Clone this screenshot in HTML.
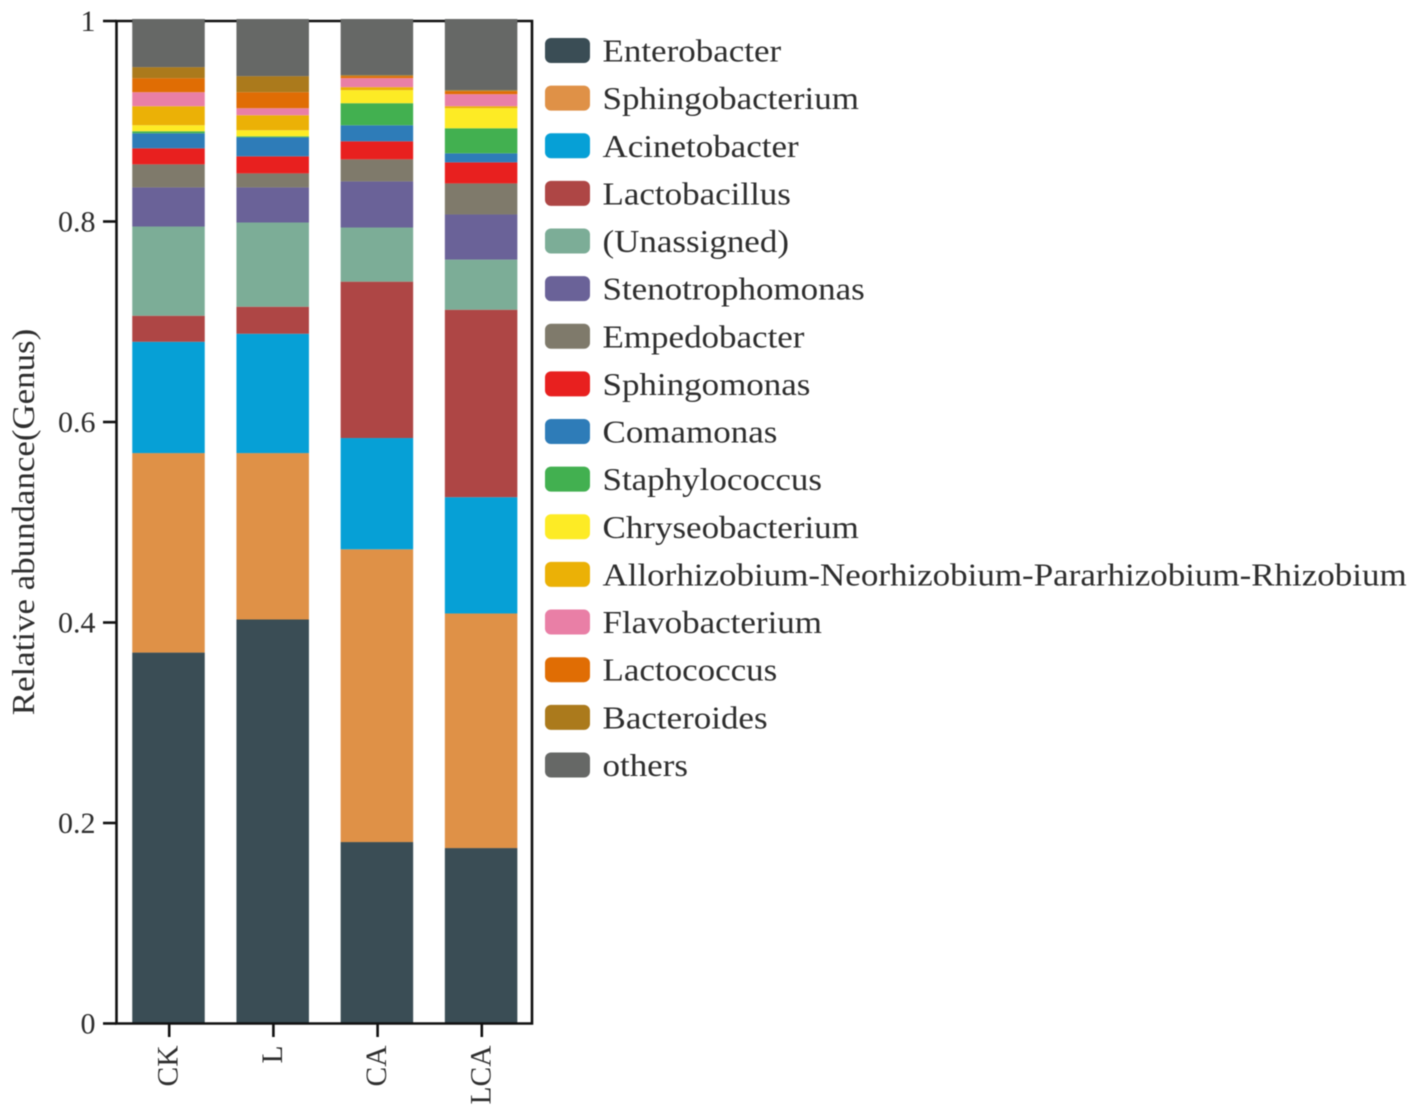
<!DOCTYPE html>
<html>
<head>
<meta charset="utf-8">
<title>Relative abundance by genus</title>
<style>
html,body{margin:0;padding:0;background:#fff;}
svg{display:block;filter:blur(0.4px);}
text{font-family:"Liberation Serif",serif;fill:#2e2e2e;}
</style>
</head>
<body>
<svg id="chart" width="1418" height="1117" viewBox="0 0 1418 1117" xmlns="http://www.w3.org/2000/svg"></svg>
<script>
const samples = ["CK", "L", "CA", "LCA"];
const yTicks = [0, 0.2, 0.4, 0.6, 0.8, 1];
const genera = ["Enterobacter", "Sphingobacterium", "Acinetobacter", "Lactobacillus", "(Unassigned)", "Stenotrophomonas", "Empedobacter", "Sphingomonas", "Comamonas", "Staphylococcus", "Chryseobacterium", "Allorhizobium-Neorhizobium-Pararhizobium-Rhizobium", "Flavobacterium", "Lactococcus", "Bacteroides", "others"];
const enterobacter = [0.370, 0.403, 0.181, 0.175];
const sphingobacterium = [0.199, 0.166, 0.292, 0.234];
const acinetobacter = [0.111, 0.119, 0.111, 0.116];
const lactobacillus = [0.026, 0.027, 0.156, 0.187];
const unassigned = [0.089, 0.084, 0.054, 0.050];
const stenotrophomonas = [0.039, 0.035, 0.046, 0.045];
const empedobacter = [0.023, 0.014, 0.022, 0.031];
const sphingomonas = [0.016, 0.017, 0.018, 0.021];
const comamonas = [0.015, 0.019, 0.016, 0.009];
const staphylococcus = [0.002, 0.001, 0.022, 0.025];
const chryseobacterium = [0.006, 0.006, 0.013, 0.020];
const allorhizobium = [0.019, 0.015, 0.003, 0.002];
const flavobacterium = [0.014, 0.007, 0.009, 0.012];
const lactococcus = [0.014, 0.016, 0.002, 0.003];
const bacteroides = [0.011, 0.016, 0.001, 0.001];
const others = [0.048, 0.056, 0.055, 0.070];
const seriesValues = [enterobacter, sphingobacterium, acinetobacter, lactobacillus, unassigned, stenotrophomonas, empedobacter, sphingomonas, comamonas, staphylococcus, chryseobacterium, allorhizobium, flavobacterium, lactococcus, bacteroides, others];
const seriesColors = ["#3a4d55", "#df9147", "#06a0d6", "#ae4645", "#7cad97", "#6a6298", "#7f7a6b", "#e8201f", "#2e7cb8", "#42b050", "#fdeb25", "#ebb106", "#e97fa6", "#e06d04", "#ab7a1c", "#666866"];

const svg = document.getElementById('chart');
const NS = 'http://www.w3.org/2000/svg';
const plot = { left: 116.5, right: 532, top: 21, bottom: 1023.5 };
const firstBarCenter = 168.5, barStep = 104.2, barWidth = 72.5;

function yScale(v) { return plot.bottom - v * (plot.bottom - plot.top); }
function xScale(i) { return firstBarCenter + i * barStep; }
function make(tag, attrs) {
  const el = document.createElementNS(NS, tag);
  for (const k in attrs) el.setAttribute(k, attrs[k]);
  svg.appendChild(el);
  return el;
}
function slug(s) { return s.toLowerCase().replace(/[^a-z0-9]+/g, '-').replace(/^-|-$/g, ''); }

// stacked bars
samples.forEach(function (sample, i) {
  let cumulative = 0;
  seriesValues.forEach(function (values, s) {
    const y0 = yScale(cumulative);
    cumulative += values[i];
    const y1 = yScale(cumulative);
    const seg = make('rect', { x: xScale(i) - barWidth / 2, y: y1, width: barWidth, height: y0 - y1, fill: seriesColors[s] });
    
    
  });
  // fill any rounding gap up to the top of the axis
  const topY = yScale(cumulative);
  if (topY > plot.top) {
    const cap = make('rect', { x: xScale(i) - barWidth / 2, y: plot.top - 1, width: barWidth, height: topY - plot.top + 1, fill: seriesColors[seriesColors.length - 1] });
    
    
  }
});

// plot frame
const frame = make('path', {
  d: 'M' + plot.left + ' ' + plot.bottom + 'V' + plot.top + 'H' + plot.right + 'V' + plot.bottom + 'Z',
  fill: 'none', stroke: '#111', 'stroke-width': 2.6
});



// redraw "others" over the top border, as in the reference
samples.forEach(function (sample, i) {
  const over = make('rect', { x: xScale(i) - barWidth / 2, y: plot.top - 2, width: barWidth, height: 5, fill: seriesColors[seriesColors.length - 1] });
  
  
});

// y axis ticks
yTicks.forEach(function (t) {
  const y = yScale(t);
  const tick = make('line', { x1: 103, x2: plot.left, y1: y, y2: y, stroke: '#111', 'stroke-width': 2.6 });
  
  
  const label = make('text', { x: 95.5, y: y + 10, 'text-anchor': 'end', 'font-size': 30 });
  label.textContent = String(t);
  
  
});

// x axis ticks
samples.forEach(function (sample, i) {
  const x = xScale(i) + 0.7;
  const tick = make('line', { x1: x, x2: x, y1: plot.bottom, y2: 1037, stroke: '#111', 'stroke-width': 2.6 });
  
  
  const label = make('text', { 'text-anchor': 'end', 'font-size': 29.5, transform: 'translate(' + (x + 8.5) + ',1045.5) rotate(-90)' });
  label.textContent = sample;
  
  
});

// y axis title
const yTitle = make('text', { 'text-anchor': 'middle', 'font-size': 32, transform: 'translate(34,522) rotate(-90) scale(1.09,1)' });
yTitle.textContent = 'Relative abundance(Genus)';



// legend
genera.forEach(function (name, i) {
  const cy = 50.5 + i * 47.63;
  const swatch = make('rect', { x: 545, y: cy - 12.5, width: 45, height: 25, rx: 6, ry: 6, fill: seriesColors[i] });
  
  
  const text = make('text', { 'font-size': 32, transform: 'translate(602.5,' + (cy + 11) + ') scale(1.093,1)' });
  text.textContent = name;
  
  
});
</script>
</body>
</html>
